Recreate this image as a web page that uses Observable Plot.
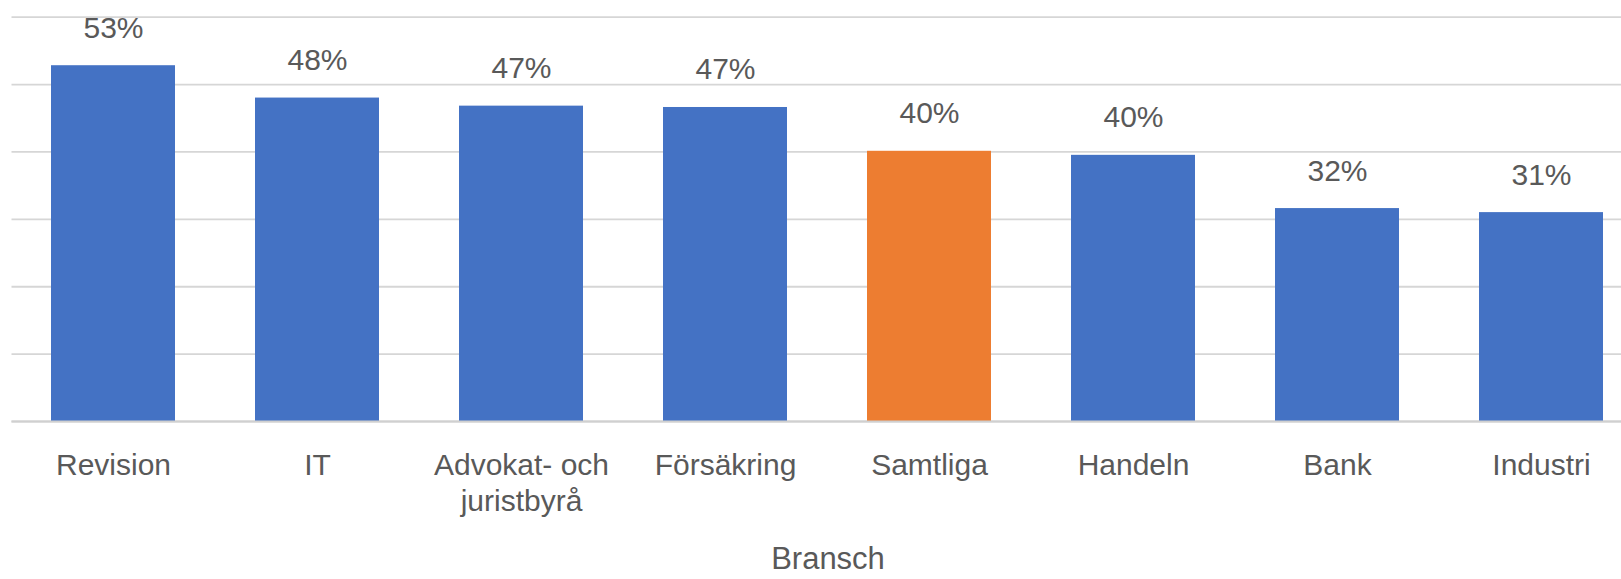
<!DOCTYPE html>
<html>
<head>
<meta charset="utf-8">
<script src="https://cdn.jsdelivr.net/npm/d3@7"></script>
<script src="https://cdn.jsdelivr.net/npm/@observablehq/plot@0.6"></script>
<style>
  html, body { margin: 0; padding: 0; background: #ffffff; overflow: hidden; }
  #chart svg { display: block; }
</style>
</head>
<body>
<div id="chart"></div>
<script>
// Data
const categories = ["Revision", "IT", "Advokat- och juristbyrå", "Försäkring", "Samtliga", "Handeln", "Bank", "Industri"];
const values = [0.528, 0.480, 0.468, 0.466, 0.401, 0.395, 0.316, 0.310];
const tickLabels = ["Revision", "IT", "Advokat- och\njuristbyrå", "Försäkring", "Samtliga", "Handeln", "Bank", "Industri"];
const groups = ["Bransch", "Bransch", "Bransch", "Bransch", "Samtliga", "Bransch", "Bransch", "Bransch"];
const gridTicks = [0, 0.1, 0.2, 0.3, 0.4, 0.5, 0.6];
const axisTitle = "Bransch";

const data = categories.map((c, i) => ({category: c, value: values[i], group: groups[i]}));
const labelOf = new Map(categories.map((c, i) => [c, tickLabels[i]]));
const pct = d3.format(".0%");

const font = "'Liberation Sans', Arial, sans-serif";
const textColor = "#595959";

const chart = Plot.plot({
  width: 1621,
  height: 579,
  marginLeft: 11.5,
  marginRight: -22.5,
  marginTop: 16.7,
  marginBottom: 158,
  style: {fontFamily: font, background: "#ffffff"},
  x: {domain: categories, paddingInner: 0.392, paddingOuter: 0.196, axis: null},
  y: {domain: [0, 0.6], axis: null},
  color: {domain: ["Bransch", "Samtliga"], range: ["#4472C4", "#ED7D31"]},
  marks: [
    Plot.gridY(gridTicks, {stroke: "#d6d6d6", strokeOpacity: 1, strokeWidth: 1.8}),
    Plot.barY(data, {x: "category", y: "value", fill: "group"}),
    Plot.ruleY([0], {stroke: "#d0d0d0", strokeWidth: 2.2}),
    Plot.text(data, {
      x: "category", y: "value", text: d => pct(d.value),
      lineAnchor: "bottom", dy: -28, fontSize: 30, fill: textColor, fontFamily: font
    }),
    Plot.axisX({
      tickSize: 0, tickPadding: 28, fontSize: 30, fill: textColor,
      lineHeight: 1.2, tickFormat: d => labelOf.get(d), label: null, fontFamily: font
    }),
    Plot.text([axisTitle], {
      frameAnchor: "bottom", lineAnchor: "bottom", dy: 147,
      fontSize: 31, fill: textColor, fontFamily: font
    })
  ]
});
document.getElementById("chart").appendChild(chart);
</script>
</body>
</html>
